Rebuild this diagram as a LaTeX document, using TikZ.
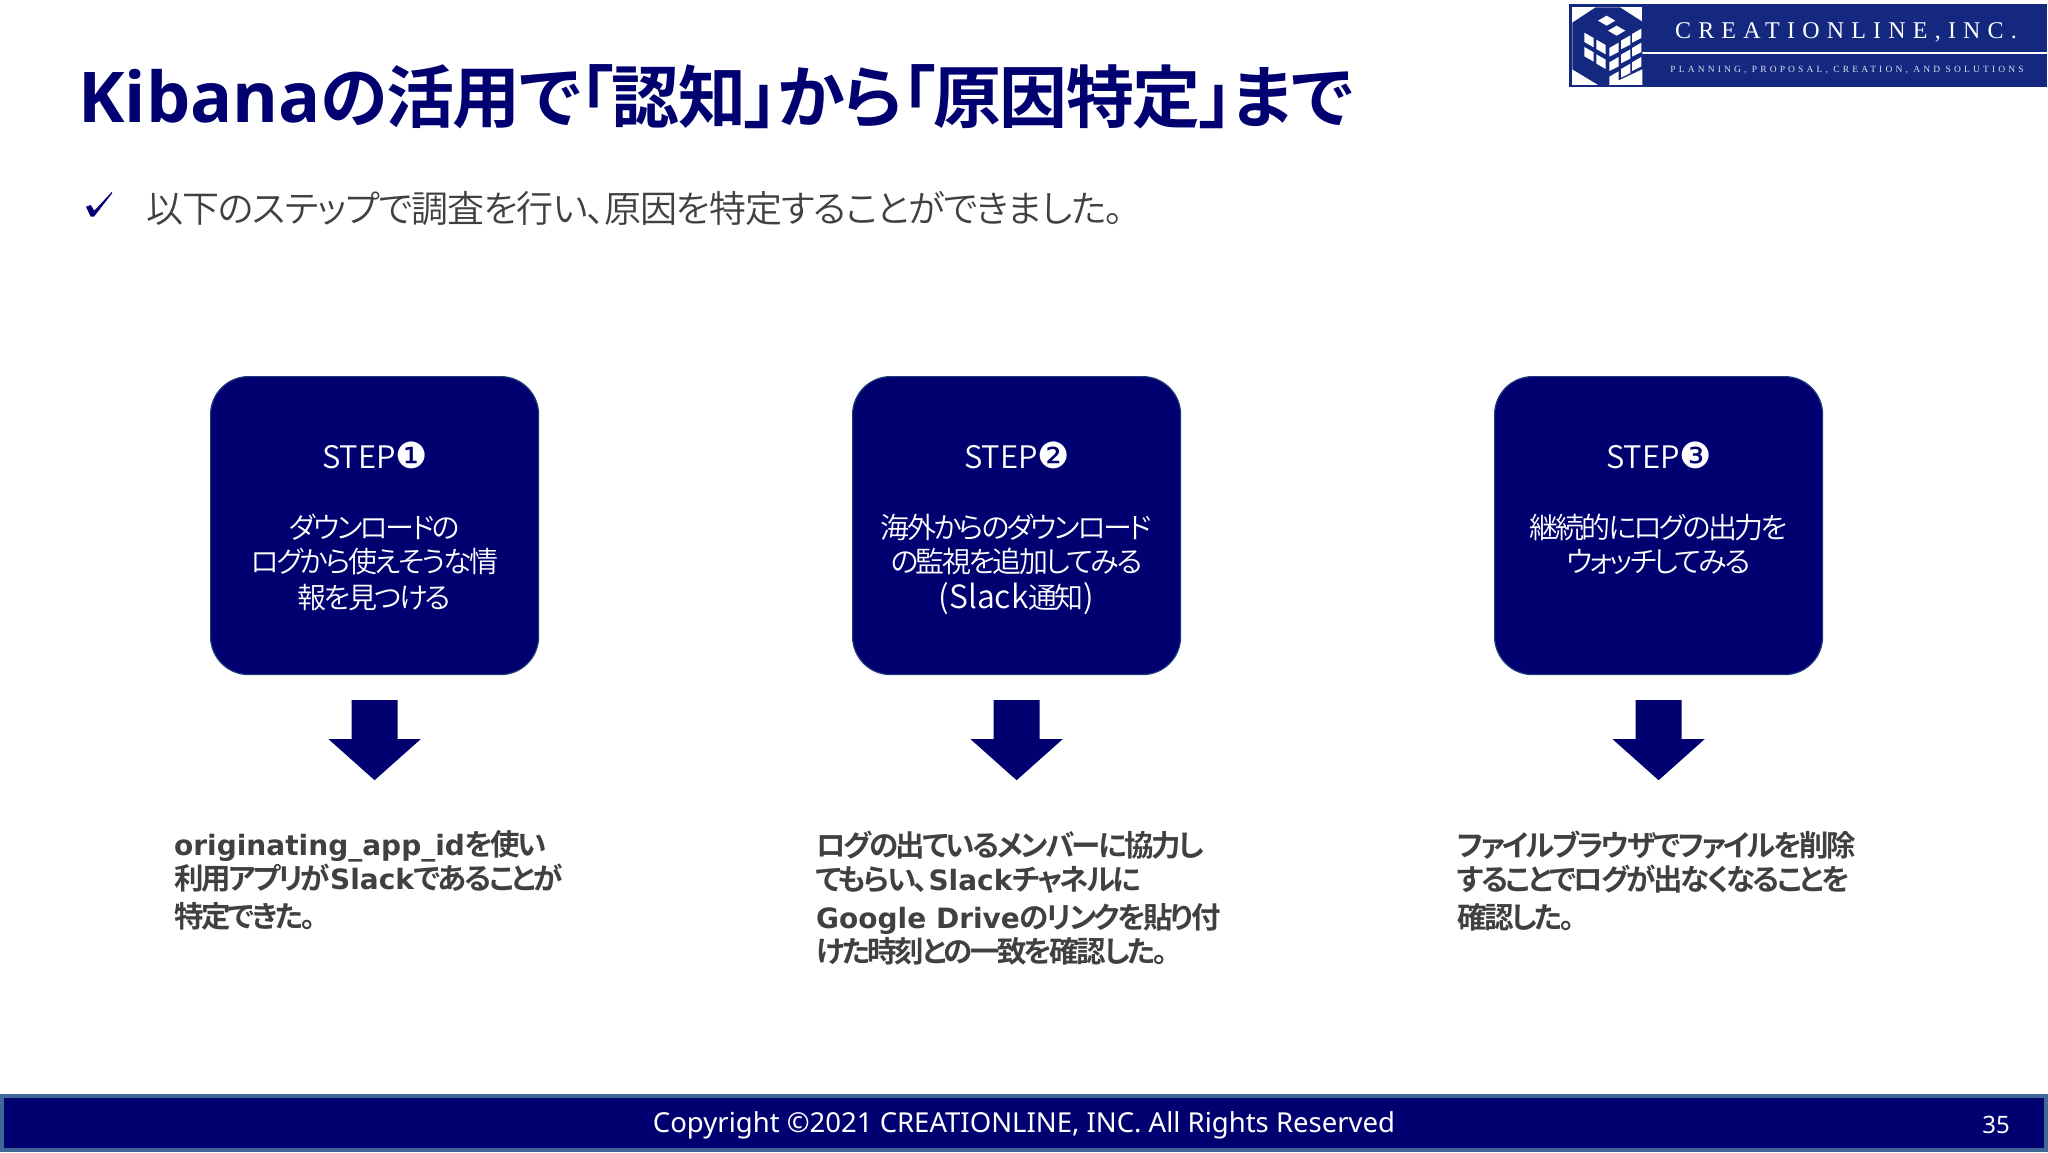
\documentclass[tikz,border=0pt]{standalone}
\usepackage{fontspec}
\setmainfont{Noto Sans}
\IfFontExistsTF{Noto Sans CJK JP DemiLight}{\def\jpthin{Noto Sans CJK JP DemiLight}}{\def\jpthin{Noto Sans CJK JP Light}}
\IfFontExistsTF{Open Sans Bold}{\def\kibanafont{Open Sans Bold}\def\kibanasize{70}}{\def\kibanafont{DejaVu Sans Bold}\def\kibanasize{63}}
\newfontfamily\jptitle[RawFeature={+palt},LetterSpace=-2.3]{Noto Sans CJK JP Bold}
\newfontfamily\lattitle{\kibanafont}
\newfontfamily\jplead[RawFeature={+palt},LetterSpace=-2.8]{\jpthin}
\newfontfamily\jpbox[RawFeature={+palt},LetterSpace=-9]{\jpthin}
\newfontfamily\jpstep[RawFeature={+palt}]{\jpthin}
\newfontfamily\jpbold[RawFeature={+palt},LetterSpace=-8.5]{Noto Sans CJK JP Bold}
\newfontfamily\latbold{DejaVu Sans Bold}
\newfontfamily\dejavu{DejaVu Sans}
\newfontfamily\logofont[LetterSpace=30]{Liberation Serif}
\newfontfamily\logotag[LetterSpace=33]{Liberation Serif}
\definecolor{navy}{HTML}{000070}
\definecolor{edge}{HTML}{1F3A78}
\definecolor{band}{HTML}{3F6797}
\definecolor{logoblue}{HTML}{14287F}
\definecolor{ink}{HTML}{404040}
\usetikzlibrary{calc}
\tikzset{
  stepbox/.style={draw=edge,line width=1.2pt,fill=navy,rounded corners=38pt,minimum width=328pt,minimum height=298pt,anchor=north west,inner sep=0pt},
  boxtext/.style={text=white,align=center,font=\jpbox\fontsize{29}{34}\selectfont,inner sep=0pt,anchor=north},
  steplabel/.style={text=white,inner sep=0pt,font=\jpstep\fontsize{31}{34}\selectfont},
  result/.style={text=ink,align=left,anchor=north west,inner sep=0pt,font=\jpbold\fontsize{29.5}{34}\selectfont},
  blockarrow/.style={fill=navy,draw=none},
  tile/.style={fill=white,draw=none},
}
\newcommand{\stepnum}[1]{{\dejavu\fontsize{36}{34}\selectfont #1}}
\newcommand{\latb}[1]{{\latbold\fontsize{28}{34}\selectfont #1}}
\newcommand{\latl}[1]{{\jpstep\fontsize{32}{34}\selectfont #1}}
\newcommand{\downarrowshape}[1]{\path[blockarrow] ($(#1.south)+(-23,25)$) -- ++(46,0) -- ++(0,39) -- ++(23,0) -- ++(-46,41) -- ++(-46,-41) -- ++(23,0) -- cycle;}
\begin{document}
\begin{tikzpicture}[x=1pt,y=-1pt]
\useasboundingbox (0,0) rectangle (2048,1152);
\fill[white] (0,0) rectangle (2048,1152);

% logo
\fill[logoblue] (1569,4) rectangle (2047,87);
\fill[white] (1642,51.5) rectangle (2047,53.5);
\begin{scope}[shift={(1565,0)},x=0.3333pt,y=-0.3333pt]
  \fill[white] (22,22) rectangle (232,255);
  \fill[logoblue] (92,22) -- (165,22) -- (232,65) -- (232,208) -- (165,255) -- (100,255) -- (22,208) -- (22,68) -- cycle;
  \foreach \a/\b in {125/62,155/92}
    \fill[tile] (\a-26,\b) -- (\a,\b-15) -- (\a+26,\b) -- (\a,\b+15) -- cycle;
  \foreach \a/\b in {72/122,108/143,72/165,108/187}
    \fill[tile] (\a-14,\b-24) -- (\a+14,\b-8) -- (\a+14,\b+20) -- (\a-14,\b+4) -- cycle;
  \foreach \a/\b in {147/150,182/128,215/108,147/193,182/170,215/150,147/236,182/213,215/193}
    \fill[tile] (\a-14,\b-6) -- (\a+14,\b-22) -- (\a+14,\b+6) -- (\a-14,\b+20) -- cycle;
  \fill[tile] (132,255) -- (232,255) -- (232,208) -- cycle;
\end{scope}
\node[text=white,inner sep=0pt,font=\logofont\fontsize{24}{24}\selectfont] (logoname) at (1846,32) {CREATIONLINE,INC.};
\node[text=white!85!logoblue,inner sep=0pt,font=\logotag\fontsize{9.5}{10}\selectfont] (logotag) at (1847,70.5) {PLANNING, PROPOSAL, CREATION, AND SOLUTIONS};

% heading
\node[anchor=base west,text=navy,inner sep=0pt,font=\jptitle\fontsize{68}{70}\selectfont] (title) at (78,122) {{\lattitle\fontsize{\kibanasize}{70}\selectfont Kibana}の活用で「認知」から「原因特定」まで};
\fill[navy] (86,206.7) -- (90.7,205) -- (94.3,210.7) -- (111.7,192) -- (112.3,193) -- (94,216.7) -- (90.7,216.7) -- cycle;
\node[anchor=base west,text=ink,inner sep=0pt,font=\jplead\fontsize{37}{40}\selectfont] (lead) at (146,222) {以下のステップで調査を行い、原因を特定することができました。};

% step boxes
\node[stepbox] (box1) at (210,376) {};
\node[stepbox] (box2) at (852,376) {};
\node[stepbox] (box3) at (1494,376) {};

\node[steplabel] (s1) at (375,455) {STEP\stepnum{❶}};
\node[steplabel] (s2) at (1017,455) {STEP\stepnum{❷}};
\node[steplabel] (s3) at (1659,455) {STEP\stepnum{❸}};

\node[boxtext] (t1) at (374.5,514) {ダウンロードの\\ログから使えそうな情\\[2pt]報を見つける};
\node[boxtext] (t2) at (1016.5,514) {海外からのダウンロード\\の監視を追加してみる\\[2pt]\latl{(Slack}通知\latl{)}};
\node[boxtext] (t3) at (1658.5,514) {継続的にログの出力を\\ウォッチしてみる};

\downarrowshape{box1}
\downarrowshape{box2}
\downarrowshape{box3}

\node[result] (r1) at (174,830.5) {\latb{originating\_app\_id}を使い\\利用アプリが\latb{Slack}であることが\\[4pt]特定できた。};
\node[result] (r2) at (816,830.5) {ログの出ているメンバーに協力し\\てもらい、\latb{Slack}チャネルに\\[4pt]\latb{Google Drive}のリンクを貼り付\\けた時刻との一致を確認した。};
\node[result] (r3) at (1457,830.5) {ファイルブラウザでファイルを削除\\することでログが出なくなることを\\[4pt]確認した。};

% footer
\draw[band,line width=4pt,fill=navy] (2,1096) rectangle (2046,1150);
\node[text=white,inner sep=0pt,font=\fontsize{27.5}{30}\selectfont] (copy) at (1024,1125) {Copyright ©2021 CREATIONLINE, INC. All Rights Reserved};
\node[text=white,inner sep=0pt,font=\fontsize{24}{30}\selectfont] (page) at (1996,1125) {35};
\end{tikzpicture}
\end{document}
